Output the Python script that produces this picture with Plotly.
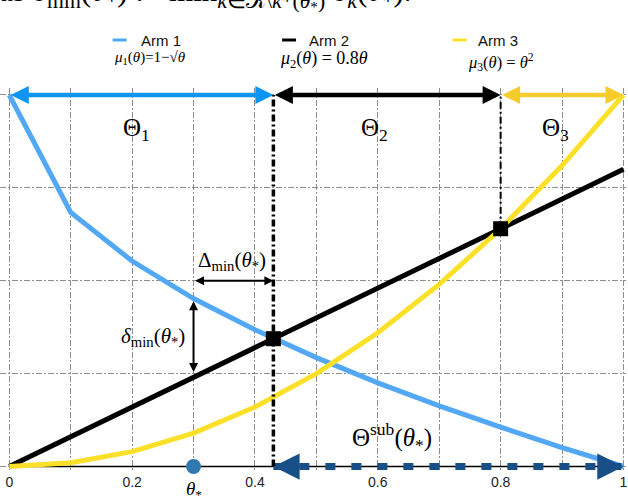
import plotly.graph_objects as go

# ---------------- data ----------------
theta = [0.0, 0.1, 0.2, 0.3, 0.4, 0.5, 0.6, 0.7, 0.8, 0.9, 1.0]
arm1 = [1.0, 0.684, 0.553, 0.452, 0.368, 0.293, 0.225, 0.163, 0.106, 0.051, 0.0]
arm2 = [0.0, 0.08, 0.16, 0.24, 0.32, 0.40, 0.48, 0.56, 0.64, 0.72, 0.80]
arm3 = [0.0, 0.01, 0.04, 0.09, 0.16, 0.25, 0.36, 0.49, 0.64, 0.81, 1.0]

cross_theta = [0.43, 0.8]
cross_value = [0.344, 0.64]
region_bounds = [0.0, 0.43, 0.8, 1.0]
theta_star = [0.3]
delta_min_span = [0.25, 0.445]     # vertical arrow (arm2 -> arm1 at theta*)
Delta_min_span = [0.3, 0.43]       # horizontal arrow
Delta_level = 0.5

x_tickvals = [0.0, 0.2, 0.4, 0.6, 0.8, 1.0]
x_ticktext = ["0", "0.2", "0.4", "0.6", "0.8", "1"]
x_minorvals = [0.1, 0.3, 0.5, 0.7, 0.9]
y_gridvals = [0.0, 0.25, 0.5, 0.75, 1.0]

arm_names = ["Arm 1", "Arm 2", "Arm 3"]
arm_colors = ["#52a8f5", "#000000", "#fbe02a"]
region_colors = ["#0d95f3", "#000000", "#f4cd2c"]
sub_color = "#174f86"
star_color = "#2f79b0"

SERIF = "Liberation Serif"
SANS = "Liberation Sans"

fig = go.Figure()

# curves
for ys, name, col in zip([arm1, arm2, arm3], arm_names, arm_colors):
    fig.add_trace(go.Scatter(x=theta, y=ys, mode="lines", name=name,
                             line=dict(color=col, width=5), showlegend=False))

# Theta_sub dashed shaft
fig.add_trace(go.Scatter(x=[region_bounds[1], region_bounds[3]], y=[0, 0], mode="lines",
                         line=dict(color=sub_color, width=7, dash="10px,16px"),
                         showlegend=False, hoverinfo="skip"))

# intersection squares
fig.add_trace(go.Scatter(x=cross_theta, y=cross_value, mode="markers",
                         marker=dict(symbol="square", size=15, color="black"),
                         showlegend=False, cliponaxis=False))

# theta* marker
fig.add_trace(go.Scatter(x=theta_star, y=[0], mode="markers",
                         marker=dict(symbol="circle", size=15, color=star_color),
                         showlegend=False, cliponaxis=False))

shapes = []
# x axis line
shapes.append(dict(type="line", xref="x", yref="y", x0=0, x1=1, y0=0, y1=0,
                   line=dict(color="black", width=1.5), layer="between"))
# vertical boundary lines
shapes.append(dict(type="line", xref="x", yref="y", x0=cross_theta[0], x1=cross_theta[0],
                   y0=0, y1=1, line=dict(color="black", width=3.5, dash="7px,3px,2px,3px")))
shapes.append(dict(type="line", xref="x", yref="y", x0=cross_theta[1], x1=cross_theta[1],
                   y0=cross_value[1], y1=1, line=dict(color="black", width=2, dash="7px,3px,2px,3px")))

# legend samples
leg_x = [113, 283, 454]
leg_text_x = [139, 308, 478]
W = 628
H = 500
PT, PB = 88, 28
PH = H - PT - PB


def py(p):
    return (H - PB - p) / PH


for lx, col in zip(leg_x, arm_colors):
    shapes.append(dict(type="line", xref="paper", yref="paper", x0=lx / W, x1=(lx + 14) / W,
                       y0=py(40), y1=py(40), line=dict(color=col, width=3)))

ann = []
for tx, name in zip(leg_text_x, arm_names):
    ann.append(dict(xref="paper", yref="paper", x=tx / W, y=py(40), xanchor="left", yanchor="middle",
                    text=name, showarrow=False, font=dict(family=SANS, size=15, color="#111")))

formulas = [
    ("<i>μ</i><sub>1</sub>(<i>θ</i>)=1−√<i>θ</i>", 112, 58, 15),
    ("<i>μ</i><sub>2</sub>(<i>θ</i>) = 0.8<i>θ</i>", 279, 59, 18),
    ("<i>μ</i><sub>3</sub>(<i>θ</i>) = <i>θ</i><sup>2</sup>", 467, 62, 16.5),
]
for txt, fx, fy, fs in formulas:
    ann.append(dict(xref="paper", yref="paper", x=fx / W, y=py(fy), xanchor="left", yanchor="middle",
                    text=txt, showarrow=False, font=dict(family=SERIF, size=fs, color="black")))

# cut-off caption text at very top
ann.append(dict(xref="paper", yref="paper", x=-0.004, y=py(17), xanchor="left", yanchor="bottom",
                text="as <i>δ</i><sub>min</sub>(<i>θ</i><sub>*</sub>) := min<sub><i>k</i>∈𝒦\\<i>k</i>*(<i>θ</i><sub>*</sub>)</sub> <i>δ</i><sub><i>k</i></sub>(<i>θ</i><sub>*</sub>).",
                showarrow=False, font=dict(family=SERIF, size=31, color="black")))

# region double arrows at top
for i in range(3):
    ann.append(dict(xref="x", yref="y", axref="x", ayref="y",
                    x=region_bounds[i + 1], y=1, ax=region_bounds[i], ay=1, text="",
                    showarrow=True, arrowside="end+start", arrowhead=2, startarrowhead=2,
                    arrowsize=0.8, startarrowsize=0.8, arrowwidth=4.5,
                    arrowcolor=region_colors[i]))

# region labels
reg_label_x = [0.207, 0.594, 0.889]
for i, lx in enumerate(reg_label_x):
    ann.append(dict(xref="x", yref="y", x=lx, y=0.908, text="Θ<sub>%d</sub>" % (i + 1),
                    showarrow=False, font=dict(family=SERIF, size=25, color="black")))

# Theta_sub arrow heads
ann.append(dict(xref="x", yref="y", x=region_bounds[1], y=0, ax=18, ay=0, text="",
                showarrow=True, arrowhead=2, arrowsize=0.75, arrowwidth=7, arrowcolor=sub_color))
ann.append(dict(xref="x", yref="y", x=region_bounds[3], y=0, ax=-18, ay=0, text="",
                showarrow=True, arrowhead=2, arrowsize=0.75, arrowwidth=7, arrowcolor=sub_color))
ann.append(dict(xref="x", yref="y", x=0.623, y=0.079,
                text="Θ<sup>sub</sup>(<i>θ</i><sub>*</sub>)",
                showarrow=False, font=dict(family=SERIF, size=25, color="black")))

# Delta_min horizontal arrow
ann.append(dict(xref="x", yref="y", axref="x", ayref="y",
                x=Delta_min_span[1], y=Delta_level, ax=Delta_min_span[0], ay=Delta_level, text="",
                showarrow=True, arrowside="end+start", arrowhead=2, startarrowhead=2,
                arrowsize=0.9, startarrowsize=0.9, arrowwidth=2, arrowcolor="black"))
ann.append(dict(xref="x", yref="y", x=0.362, y=0.553,
                text="Δ<sub>min</sub>(<i>θ</i><sub>*</sub>)",
                showarrow=False, font=dict(family=SERIF, size=21, color="black")))

# delta_min vertical arrow
ann.append(dict(xref="x", yref="y", axref="x", ayref="y",
                x=theta_star[0], y=delta_min_span[1], ax=theta_star[0], ay=delta_min_span[0], text="",
                showarrow=True, arrowside="end+start", arrowhead=2, startarrowhead=2,
                arrowsize=0.9, startarrowsize=0.9, arrowwidth=2, arrowcolor="black"))
ann.append(dict(xref="x", yref="y", x=0.29, y=0.349, xanchor="right",
                text="<i>δ</i><sub>min</sub>(<i>θ</i><sub>*</sub>)",
                showarrow=False, font=dict(family=SERIF, size=21, color="black")))

# theta* label (below axis, paper y)
ann.append(dict(xref="x", yref="paper", x=theta_star[0], y=py(490), yanchor="middle",
                text="<i>θ</i><sub>*</sub>",
                showarrow=False, font=dict(family=SERIF, size=19, color="black")))

grid = dict(showgrid=True, gridcolor="#8c8c8c", gridwidth=1, griddash="6px,2px,2px,2px",
            zeroline=False, showline=False, ticks="")

fig.update_layout(
    width=W, height=H,
    margin=dict(l=0, r=0, t=PT, b=PB, pad=0),
    paper_bgcolor="white", plot_bgcolor="white",
    xaxis=dict(range=[-0.0151, 1.0041], tickvals=x_tickvals, ticktext=x_ticktext,
               tickfont=dict(family=SANS, size=14, color="#222"), ticklabeloverflow="allow",
               minor=dict(tickvals=x_minorvals, showgrid=True, gridcolor="#8c8c8c",
                          gridwidth=1, griddash="6px,2px,2px,2px", ticks=""),
               **grid),
    yaxis=dict(range=[-0.0148, 1.0188], tickvals=y_gridvals, showticklabels=False, **grid),
    shapes=shapes,
    annotations=ann,
    showlegend=False,
)

fig.write_html("out.html", config={"displayModeBar": False},
               post_script="document.body.style.margin='0px';document.body.style.overflow='hidden';")
